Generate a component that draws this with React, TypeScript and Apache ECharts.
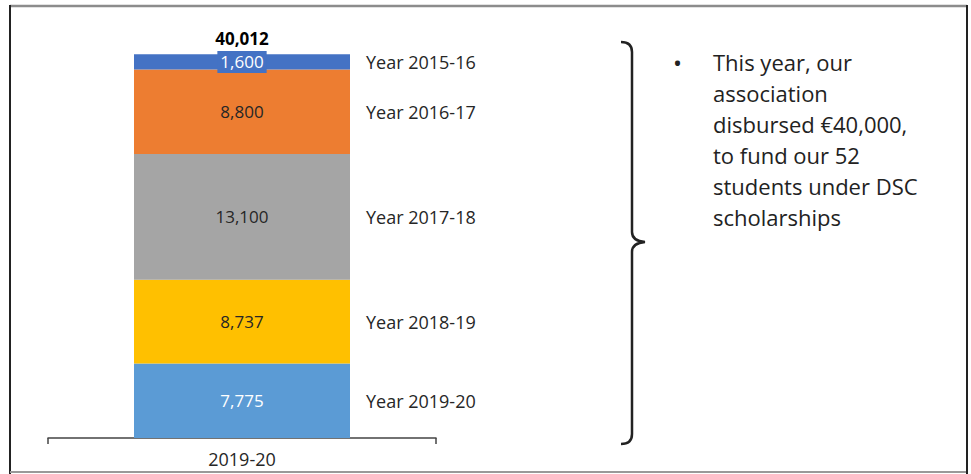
import React, { useEffect, useRef } from "react";
import * as echarts from "echarts";

const categories = ["2019-20"];
const seriesNames = ["Year 2019-20", "Year 2018-19", "Year 2017-18", "Year 2016-17", "Year 2015-16"];
const seriesValues = [7775, 8737, 13100, 8800, 1600];
const seriesColors = ["#5B9BD5", "#FFC000", "#A5A5A5", "#ED7D31", "#4472C4"];
const labelColors = ["#ffffff", "#262626", "#262626", "#262626", "#ffffff"];
const noteLines = [
  "This year, our",
  "association",
  "disbursed €40,000,",
  "to fund our 52",
  "students under DSC",
  "scholarships",
];

const FONT = "'Open Sans'";
const fmt = (v: number) => v.toLocaleString("en-US");

export default function App() {
  const ref = useRef<HTMLDivElement>(null);
  useEffect(() => {
    document.body.style.margin = "0";
    if (!ref.current) return;
    const d =
      "M621,42 Q632,42 632,52 L632,232 Q632,241 645,242 Q632,243 632,252 L632,434 Q632,444 621,444";
    echarts.graphic.registerShape("brace", echarts.graphic.extendPath(d, {}) as any);
    const chart = echarts.init(ref.current, null, { renderer: "svg" });
    const total = seriesValues.reduce((a, b) => a + b, 0);

    const main = seriesValues.map((v, i) => ({
      name: seriesNames[i],
      type: "bar",
      stack: "main",
      xAxisIndex: 0,
      barWidth: 216,
      data: [v],
      itemStyle: { color: seriesColors[i] },
      label: {
        show: true,
        position: "inside",
        formatter: (p: any) => fmt(p.value),
        color: labelColors[i],
        fontFamily: FONT,
        fontSize: 17,
        ...(i === seriesValues.length - 1
          ? { backgroundColor: seriesColors[i], padding: [3, 3, 2, 3] }
          : {}),
      },
      silent: true,
    }));
    const overlay = seriesValues.map((v, i) => ({
      name: seriesNames[i] + " ",
      type: "bar",
      stack: "overlay",
      xAxisIndex: 1,
      barWidth: 216,
      data: [v],
      itemStyle: { color: "transparent" },
      label: {
        show: true,
        position: "right",
        distance: 16,
        formatter: () => seriesNames[i],
        color: "#262626",
        fontFamily: FONT,
        fontSize: 18,
      },
      silent: true,
    }));
    const totalSeries = {
      name: "total",
      type: "bar",
      stack: "overlay",
      xAxisIndex: 1,
      barWidth: 216,
      data: [0],
      itemStyle: { color: "transparent" },
      label: {
        show: true,
        position: "top",
        distance: 7,
        formatter: () => fmt(total),
        color: "#000000",
        fontFamily: FONT,
        fontWeight: "bold",
        fontSize: 17,
      },
      silent: true,
    };

    chart.setOption({
      animation: false,
      grid: { left: 48, width: 388, top: 16, bottom: 36 },
      xAxis: [
        {
          type: "category",
          data: categories,
          axisLine: { lineStyle: { color: "#444444", width: 1.5 } },
          axisTick: { show: true, length: 6, lineStyle: { color: "#444444", width: 1.5 } },
          axisLabel: { color: "#262626", fontFamily: FONT, fontSize: 18, margin: 12 },
        },
        { type: "category", data: categories, show: false },
      ],
      yAxis: { type: "value", min: 0, max: 44000, show: false },
      series: [...main, ...overlay, totalSeries],
      graphic: [
        { type: "line", shape: { x1: 10, y1: 6, x2: 967, y2: 6 }, style: { stroke: "#8c8c8c", lineWidth: 2.5 } },
        { type: "line", shape: { x1: 10, y1: 5, x2: 10, y2: 474 }, style: { stroke: "#222222", lineWidth: 2 } },
        { type: "line", shape: { x1: 10, y1: 472, x2: 967, y2: 472 }, style: { stroke: "#999999", lineWidth: 2 } },
        { type: "line", shape: { x1: 967, y1: 5, x2: 967, y2: 474 }, style: { stroke: "#222222", lineWidth: 2 } },
        {
          type: "brace",
          x: 0,
          y: 0,
          style: { fill: "none", stroke: "#222222", lineWidth: 2.5 },
        },
        {
          type: "text",
          x: 673,
          y: 62,
          style: { text: "•", font: `24px ${FONT}`, fill: "#222222", verticalAlign: "middle" },
        },
        {
          type: "text",
          x: 713,
          y: 46,
          style: {
            text: noteLines.join("\n"),
            font: `22px ${FONT}`,
            lineHeight: 31,
            fill: "#222222",
            verticalAlign: "top",
          },
        },
      ],
    } as any);
    return () => chart.dispose();
  }, []);
  return (
    <div
      ref={ref}
      style={{ width: 971, height: 474, position: "fixed", left: 0, top: 0, background: "#ffffff" }}
    />
  );
}
